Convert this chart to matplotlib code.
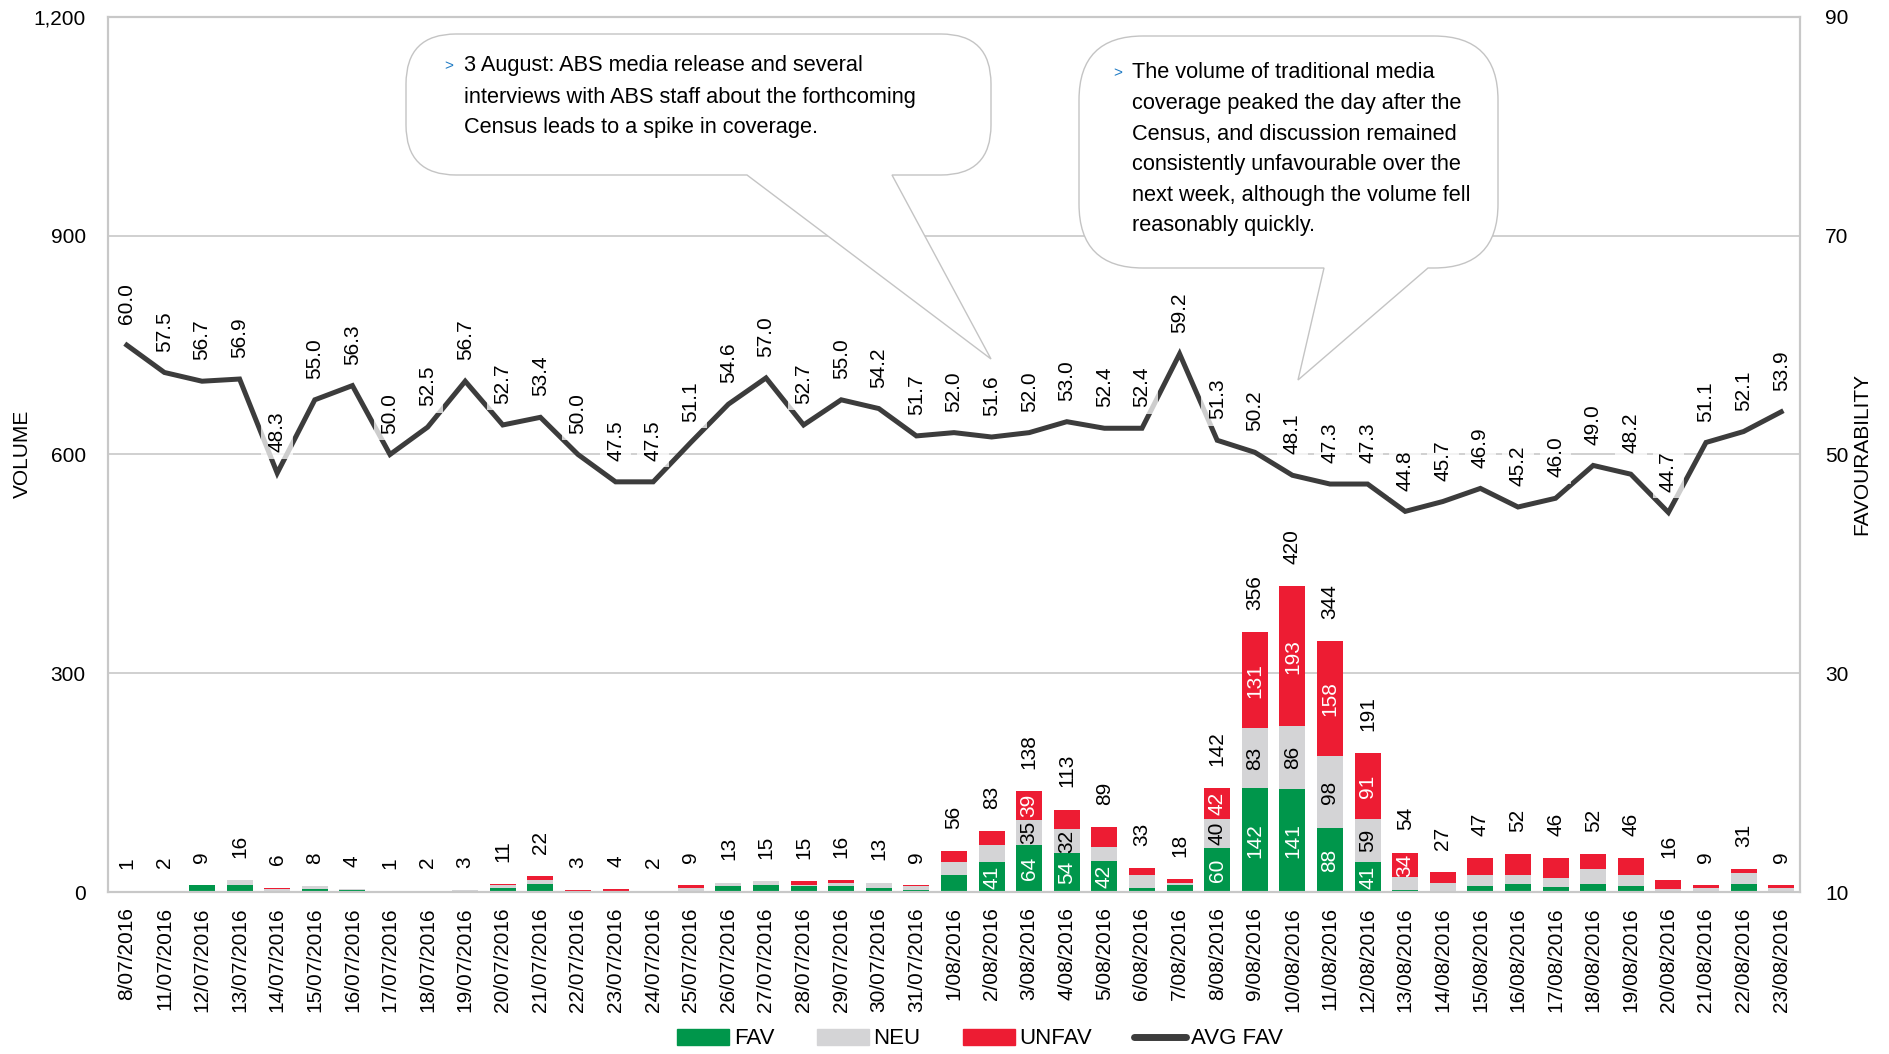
import numpy as np
import matplotlib
matplotlib.use('Agg')
import matplotlib.pyplot as plt
from matplotlib.path import Path
from matplotlib.patches import PathPatch, Patch
from matplotlib.lines import Line2D
from matplotlib.ticker import FuncFormatter

plt.rcParams['font.family'] = ['Liberation Sans', 'DejaVu Sans']

dates = ['8/07/2016'] + ['%d/07/2016' % d for d in range(11, 32)] + \
        ['%d/08/2016' % d for d in range(1, 24)]
fav = [0, 0, 9, 10, 1, 4, 3, 0, 0, 1, 5, 11, 0, 0, 0, 2, 8, 9, 8, 8, 5, 3,
       23, 41, 64, 54, 42, 6, 9, 60, 142, 141, 88, 41, 3, 2, 8, 11, 7, 11, 8, 1, 2, 11, 2]
neu = [1, 2, 0, 6, 3, 4, 1, 1, 2, 2, 4, 5, 1, 1, 1, 4, 5, 6, 2, 5, 8, 5,
       18, 23, 35, 32, 20, 17, 3, 40, 83, 86, 98, 59, 17, 11, 15, 12, 12, 21, 16, 3, 3, 15, 4]
unfav = [0, 0, 0, 0, 2, 0, 0, 0, 0, 0, 2, 6, 2, 3, 1, 3, 0, 0, 5, 3, 0, 1,
         15, 19, 39, 27, 27, 10, 6, 42, 131, 193, 158, 91, 34, 14, 24, 29, 27, 20, 22, 12, 4, 5, 3]
avg_fav = [60.0, 57.5, 56.7, 56.9, 48.3, 55.0, 56.3, 50.0, 52.5, 56.7,
           52.7, 53.4, 50.0, 47.5, 47.5, 51.1, 54.6, 57.0, 52.7, 55.0,
           54.2, 51.7, 52.0, 51.6, 52.0, 53.0, 52.4, 52.4, 59.2, 51.3,
           50.2, 48.1, 47.3, 47.3, 44.8, 45.7, 46.9, 45.2, 46.0, 49.0,
           48.2, 44.7, 51.1, 52.1, 53.9]

note1 = ['3 August: ABS media release and several',
         'interviews with ABS staff about the forthcoming',
         'Census leads to a spike in coverage.']
note2 = ['The volume of traditional media',
         'coverage peaked the day after the',
         'Census, and discussion remained',
         'consistently unfavourable over the',
         'next week, although the volume fell',
         'reasonably quickly.']

GREEN = '#00964B'
GREY = '#D4D4D6'
RED = '#ED1C33'
LINE = '#3C3C3C'
FRAME = '#C8C8C8'
FS = 15

W, H = 1890, 1054
fig = plt.figure(figsize=(W / 100, H / 100), dpi=100)
ax = fig.add_axes([108 / W, 1 - 892 / H, (1800 - 108) / W, (892 - 17) / H])
ax2 = ax.twinx()

x = np.arange(len(dates))
fav = np.array(fav)
neu = np.array(neu)
unfav = np.array(unfav)
total = fav + neu + unfav
bw = 0.69

ax.bar(x, fav, bw, color=GREEN, zorder=2)
ax.bar(x, neu, bw, bottom=fav, color=GREY, zorder=2)
ax.bar(x, unfav, bw, bottom=fav + neu, color=RED, zorder=2)

# values inside the larger segments
for i in x:
    for val, base, col in ((fav[i], 0, 'white'), (neu[i], fav[i], 'black'),
                           (unfav[i], fav[i] + neu[i], 'white')):
        if val >= 30:
            ax.text(i, base + val / 2, str(val), rotation=90, ha='center',
                    va='center', color=col, fontsize=FS, zorder=3)
    ax.annotate(str(total[i]), (i, total[i]), xytext=(0, 16),
                textcoords='offset points', rotation=90, ha='center',
                va='bottom', fontsize=FS, zorder=3)

ax.set_xlim(-0.5, len(dates) - 0.5)
ax.set_ylim(0, 1200)
ax.set_yticks([0, 300, 600, 900, 1200])
ax.yaxis.set_major_formatter(FuncFormatter(lambda v, p: '{:,.0f}'.format(v)))
ax.set_xticks(x)
ax.set_xticklabels(dates, rotation=90, fontsize=FS)
ax.tick_params(axis='both', length=0, labelsize=FS)
ax.tick_params(axis='y', pad=16)
ax.tick_params(axis='x', pad=11)
for v in (300, 600, 900):
    ax.axhline(v, color=FRAME, lw=1.2, zorder=1)

ax2.plot(x, avg_fav, color=LINE, lw=3.6, zorder=2, solid_joinstyle='miter')
for i in x:
    ax2.annotate('%.1f' % avg_fav[i], (i, avg_fav[i]), xytext=(0, 15),
                 textcoords='offset points', rotation=90, ha='center',
                 va='bottom', fontsize=FS, zorder=3,
                 bbox=dict(boxstyle='square,pad=0.3', fc='white', ec='none', alpha=0.75))
ax2.set_ylim(10, 90)
ax2.set_yticks([10, 30, 50, 70, 90])
ax2.tick_params(axis='y', length=0, labelsize=FS, pad=18)

for a in (ax, ax2):
    for s in a.spines.values():
        s.set_color(FRAME)
        s.set_linewidth(1.5)

fig.text(22 / W, 1 - 454 / H, 'VOLUME', rotation=90, ha='center', va='center', fontsize=FS)
fig.text(1862 / W, 1 - 454 / H, 'FAVOURABILITY', rotation=90, ha='center', va='center', fontsize=FS)


def bubble(x0, y0, x1, y1, r, b0, b1, tip):
    # speech bubble outline in pixel coords (y down), tail hanging off the bottom edge
    pts = [(x0 + r, y0), (x1 - r, y0), (x1, y0), (x1, y0 + r), (x1, y1 - r),
           (x1, y1), (x1 - r, y1), (b1, y1), tip, (b0, y1), (x0 + r, y1),
           (x0, y1), (x0, y1 - r), (x0, y0 + r), (x0, y0), (x0 + r, y0), (x0 + r, y0)]
    codes = [Path.MOVETO, Path.LINETO, Path.CURVE3, Path.CURVE3, Path.LINETO,
             Path.CURVE3, Path.CURVE3, Path.LINETO, Path.LINETO, Path.LINETO,
             Path.LINETO, Path.CURVE3, Path.CURVE3, Path.LINETO, Path.CURVE3,
             Path.CURVE3, Path.CLOSEPOLY]
    verts = [(px / W, 1 - py / H) for px, py in pts]
    patch = PathPatch(Path(verts, codes), transform=fig.transFigure, fc='white',
                      ec='#C4C4C4', lw=1.0, zorder=10)
    fig.add_artist(patch)


def note(lines, xm, xt, y_first, step):
    fig.text(xm / W, 1 - y_first / H, '>', color='#1F7BC4', fontsize=11,
             ha='left', va='center', zorder=11)
    for k, s in enumerate(lines):
        fig.text(xt / W, 1 - (y_first + k * step) / H, s, fontsize=15.7,
                 ha='left', va='center', zorder=11)


bubble(406, 34, 991, 175, 50, 747, 892, (991, 359))
note(note1, 444, 464, 66, 31)
bubble(1079, 36, 1498, 268, 64, 1324, 1428, (1298, 380))
note(note2, 1113, 1132, 73, 30.5)

handles = [Patch(color=GREEN), Patch(color=GREY), Patch(color=RED),
           Line2D([0], [0], color=LINE, lw=5, solid_capstyle='round')]
fig.legend(handles, ['FAV', 'NEU', 'UNFAV', 'AVG FAV'], loc='center',
           bbox_to_anchor=(980 / W, 1 - 1039 / H), ncol=4, frameon=False,
           fontsize=16, handlelength=2.35, handletextpad=0.2, columnspacing=1.9)

fig.savefig('out.png', dpi=100)
